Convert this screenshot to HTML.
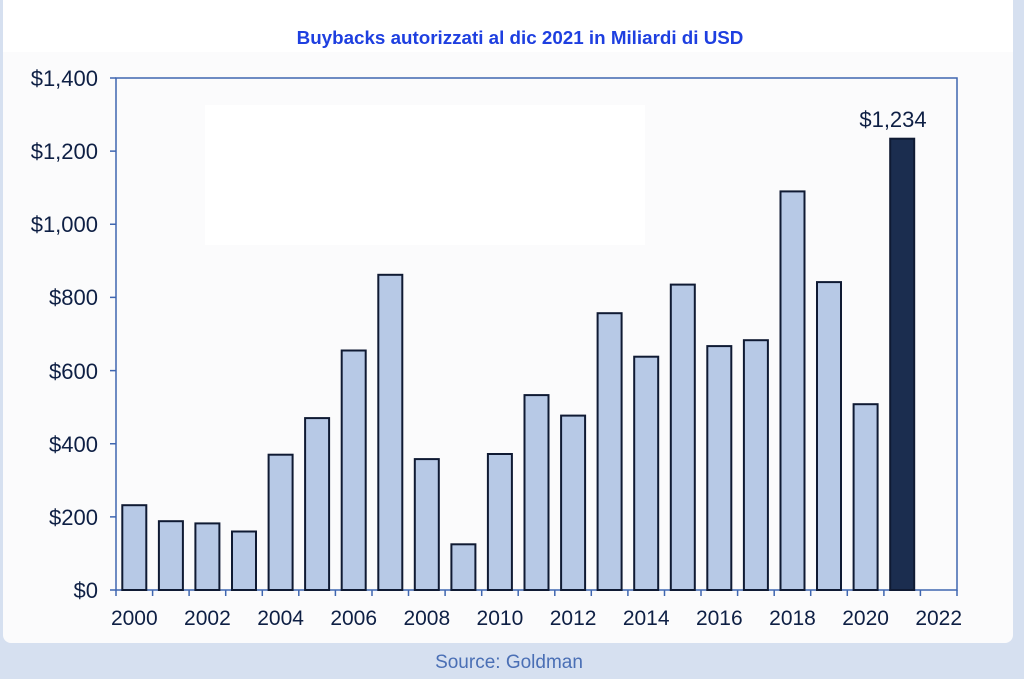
<!DOCTYPE html><html><head><meta charset="utf-8"><style>
body{margin:0;width:1024px;height:679px;background:#d6e0f0;overflow:hidden;font-family:"Liberation Sans",sans-serif}
</style></head><body>
<svg width="1024" height="679" xmlns="http://www.w3.org/2000/svg" style="position:absolute;left:0;top:0">
<rect x="3" y="0" width="1010" height="643" rx="8" fill="#fbfbfc"/>
<rect x="3" y="0" width="1010" height="52" fill="#ffffff"/>
<rect x="205" y="105" width="440" height="140" fill="#ffffff"/>
<text x="520" y="44" text-anchor="middle" font-size="18.8" font-weight="bold" fill="#1e3fe0">Buybacks autorizzati al dic 2021 in Miliardi di USD</text>
<g stroke="#3f66b0" stroke-width="1.5" fill="none">
<rect x="116" y="78" width="841" height="512"/>
<path d="M110 590H116M110 516.9H116M110 443.7H116M110 370.6H116M110 297.4H116M110 224.3H116M110 151.1H116M110 78H116"/>
<path d="M116 590V596M152.6 590V596M189.1 590V596M225.7 590V596M262.3 590V596M298.8 590V596M335.4 590V596M372 590V596M408.5 590V596M445.1 590V596M481.7 590V596M518.2 590V596M554.8 590V596M591.3 590V596M627.9 590V596M664.5 590V596M701 590V596M737.6 590V596M774.2 590V596M810.7 590V596M847.3 590V596M883.9 590V596M920.4 590V596M957 590V596"/>
</g>
<g fill="#b7c9e6" stroke="#0f1a33" stroke-width="2">
<rect x="122.3" y="505.2" width="24" height="84.8"/>
<rect x="158.9" y="521.2" width="24" height="68.8"/>
<rect x="195.4" y="523.4" width="24" height="66.6"/>
<rect x="232" y="531.5" width="24" height="58.5"/>
<rect x="268.6" y="454.7" width="24" height="135.3"/>
<rect x="305.1" y="418.1" width="24" height="171.9"/>
<rect x="341.7" y="350.5" width="24" height="239.5"/>
<rect x="378.3" y="274.8" width="24" height="315.2"/>
<rect x="414.8" y="459.1" width="24" height="130.9"/>
<rect x="451.4" y="544.3" width="24" height="45.7"/>
<rect x="487.9" y="454" width="24" height="136"/>
<rect x="524.5" y="395.1" width="24" height="194.9"/>
<rect x="561.1" y="415.6" width="24" height="174.4"/>
<rect x="597.6" y="313.2" width="24" height="276.8"/>
<rect x="634.2" y="356.7" width="24" height="233.3"/>
<rect x="670.8" y="284.6" width="24" height="305.4"/>
<rect x="707.3" y="346.1" width="24" height="243.9"/>
<rect x="743.9" y="340.2" width="24" height="249.8"/>
<rect x="780.5" y="191.4" width="24" height="398.6"/>
<rect x="817" y="282.1" width="24" height="307.9"/>
<rect x="853.6" y="404.2" width="24" height="185.8"/>
<rect x="890.2" y="138.7" width="24" height="451.3" fill="#1b2d4f"/>
</g>
<g font-size="22" fill="#0e1f44" text-anchor="end">
<text x="98" y="598">$0</text><text x="98" y="525">$200</text><text x="98" y="452">$400</text><text x="98" y="379">$600</text><text x="98" y="305">$800</text><text x="98" y="232">$1,000</text><text x="98" y="159">$1,200</text><text x="98" y="86">$1,400</text>
</g>
<g font-size="21" fill="#0e1f44" text-anchor="middle">
<text x="134.3" y="625">2000</text><text x="207.4" y="625">2002</text><text x="280.6" y="625">2004</text><text x="353.7" y="625">2006</text><text x="426.8" y="625">2008</text><text x="499.9" y="625">2010</text><text x="573.1" y="625">2012</text><text x="646.2" y="625">2014</text><text x="719.3" y="625">2016</text><text x="792.5" y="625">2018</text><text x="865.6" y="625">2020</text><text x="938.7" y="625">2022</text>
</g>
<text x="893" y="127" text-anchor="middle" font-size="22" fill="#0e1f44">$1,234</text>
<text x="509" y="668" text-anchor="middle" font-size="19" fill="#4a6fb5">Source: Goldman</text>
</svg>
</body></html>
